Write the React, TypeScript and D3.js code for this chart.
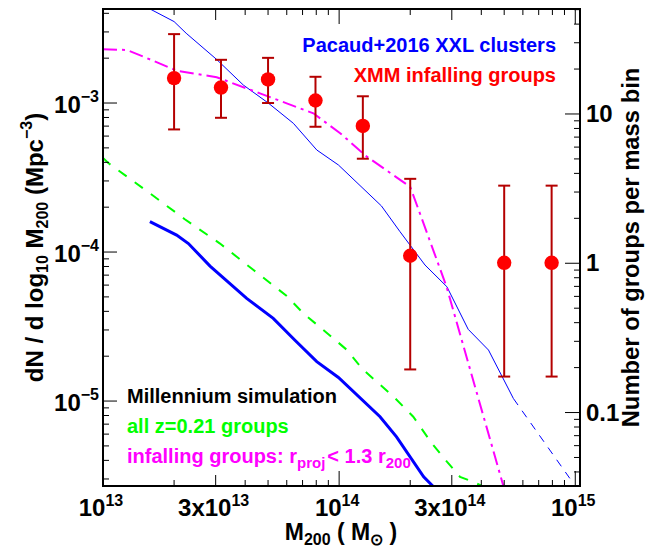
import React from "react";
import * as d3 from "d3";

// ---------- data ----------
// Pacaud+2016 XXL clusters (thin blue, solid part)
const pacaudMass = [1.25e13, 1.58e13, 2.0e13, 2.25e13, 3.03e13, 3.93e13, 5.01e13, 6.4e13, 8.04e13, 9.93e13, 1.51e14, 1.81e14, 2.31e14, 2.86e14, 3.52e14, 4.29e14, 5.47e14];
const pacaudDensity = [5.2e-3, 4.28e-3, 3.52e-3, 2.94e-3, 1.96e-3, 1.32e-3, 1.0e-3, 7.31e-4, 4.84e-4, 3.84e-4, 2.04e-4, 1.37e-4, 8.18e-5, 5.85e-5, 3.03e-5, 2.2e-5, 1.04e-5];
// Pacaud+2016 extrapolation (thin blue dashed)
const pacaudExtMass = [5.47e14, 9.48e14];
const pacaudExtDensity = [1.04e-5, 3.03e-6];

// Millennium: infalling groups (magenta dash-dot)
const infallMass = [1.0e13, 1.26e13, 1.48e13, 2.05e13, 3.03e13, 4.62e13, 6.0e13, 7.78e13, 1.01e14, 1.31e14, 2.0e14, 2.85e14, 4.97e14];
const infallDensity = [2.3e-3, 2.27e-3, 2.05e-3, 1.65e-3, 1.49e-3, 1.16e-3, 9.95e-4, 8.53e-4, 6.27e-4, 4.37e-4, 2.74e-4, 5.85e-5, 2.66e-6];

// Millennium: all z=0.21 groups (green dashed)
const allMass = [1.0e13, 1.05e13, 1.58e13, 2.22e13, 3.13e13, 4.34e13, 6.0e13, 7.05e13, 9.44e13, 1.08e14, 1.26e14, 1.7e14, 2.06e14, 2.47e14, 2.86e14, 3.25e14, 3.7e14, 4.36e14];
const allDensity = [4.28e-4, 3.97e-4, 2.48e-4, 1.66e-4, 1.14e-4, 7.57e-5, 5.07e-5, 3.88e-5, 2.64e-5, 2.2e-5, 1.63e-5, 1.07e-5, 7.85e-6, 5.2e-6, 3.92e-6, 3.1e-6, 2.87e-6, 2.53e-6];

// thick blue curve
const thickMass = [1.58e13, 2.05e13, 2.3e13, 2.84e13, 4.06e13, 5.26e13, 6.5e13, 8.04e13, 9.93e13, 1.49e14, 1.75e14, 2.28e14, 2.51e14];
const thickDensity = [1.6e-4, 1.3e-4, 1.14e-4, 8.05e-5, 4.89e-5, 3.59e-5, 2.56e-5, 1.84e-5, 1.44e-5, 7.85e-6, 5.75e-6, 3.1e-6, 2.66e-6];

// XMM infalling groups (red points with error bars)
const xmmMass = [2.0e13, 3.16e13, 5.0e13, 7.94e13, 1.26e14, 2.0e14, 5.0e14, 7.94e14];
const xmmDensity = [1.47e-3, 1.27e-3, 1.44e-3, 1.04e-3, 7.02e-4, 9.44e-5, 8.47e-5, 8.47e-5];
const xmmHigh = [2.9e-3, 1.95e-3, 2.01e-3, 1.5e-3, 1.11e-3, 3.1e-4, 2.79e-4, 2.79e-4];
const xmmLow = [6.65e-4, 7.96e-4, 1.0e-3, 6.93e-4, 4.23e-4, 1.63e-5, 1.46e-5, 1.46e-5];

// tick labels
const xLabelValues = [1e13, 3e13, 1e14, 3e14, 1e15];
const xLabelBase = ["10", "3x10", "10", "3x10", "10"];
const xLabelExp = ["13", "13", "14", "14", "15"];
const yLeftLabelValues = [1e-5, 1e-4, 1e-3];
const yLeftLabelExp = ["\u22125", "\u22124", "\u22123"];
const yRightLabelValues = [0.1, 1, 10];
const yRightLabels = ["0.1", "1", "10"];

// ---------- layout ----------
const W = 661;
const H = 549;
const L = 103, R = 580, T = 9, B = 486;
const FONT = "'Liberation Sans', Arial, Helvetica, sans-serif";

const x = d3.scaleLog().domain([1e13, Math.pow(10, 15.02)]).range([L, R]);
const yL = d3.scaleLog().domain([Math.pow(10, -5.57), Math.pow(10, -2.369)]).range([B, T]);
const yR = d3.scaleLog().domain([0.0322, 50.5]).range([B, T]);

function logTicks(lo: number, hi: number) {
  const out: { v: number; m: number }[] = [];
  for (let e = Math.floor(Math.log10(lo)) - 1; e <= Math.ceil(Math.log10(hi)); e++) {
    for (let m = 1; m < 10; m++) {
      const v = m * Math.pow(10, e);
      if (v >= lo * 0.9999 && v <= hi * 1.0001) out.push({ v, m });
    }
  }
  return out;
}

const zip = (a: number[], b: number[]) => a.map((v, i) => [v, b[i]] as [number, number]);

export default function App() {
  const line = d3
    .line<[number, number]>()
    .x((d) => x(d[0]))
    .y((d) => yL(d[1]));

  const xTicks = logTicks(1e13, Math.pow(10, 15.02));
  const yLTicks = logTicks(Math.pow(10, -5.57), Math.pow(10, -2.369));
  const yRTicks = logTicks(0.0322, 50.5);

  const xTickLen = (m: number) => (m === 1 ? 15 : m === 3 ? 11 : 6);

  const errColor = "#b40000";

  return (
    <svg
      width={W}
      height={H}
      viewBox={`0 0 ${W} ${H}`}
      style={{ position: "absolute", left: 0, top: 0, background: "#fff" }}
      fontFamily={FONT}
      fontWeight="bold"
    >
      <rect x={0} y={0} width={W} height={H} fill="#fff" />
      <defs>
        <clipPath id="plotClip">
          <rect x={L} y={T} width={R - L} height={B - T} />
        </clipPath>
      </defs>

      <g clipPath="url(#plotClip)" fill="none">
        <path d={line(zip(allMass, allDensity)) || ""} stroke="#00ff00" strokeWidth={2} strokeDasharray="10,10" />
        <path d={line(zip(thickMass, thickDensity)) || ""} stroke="#0000ff" strokeWidth={3} />
        <path d={line(zip(pacaudMass, pacaudDensity)) || ""} stroke="#0000ff" strokeWidth={1} />
        <path d={line(zip(pacaudExtMass, pacaudExtDensity)) || ""} stroke="#0000ff" strokeWidth={1} strokeDasharray="8,7" />
        <path d={line(zip(infallMass, infallDensity)) || ""} stroke="#ff00ff" strokeWidth={2} strokeDasharray="14,5,3,5" />
      </g>

      {/* error bars and points */}
      <g>
        {xmmMass.map((m, i) => (
          <g key={i}>
            <line x1={x(m)} x2={x(m)} y1={yL(xmmHigh[i])} y2={yL(xmmLow[i])} stroke={errColor} strokeWidth={2} />
            <line x1={x(m) - 6} x2={x(m) + 6} y1={yL(xmmHigh[i])} y2={yL(xmmHigh[i])} stroke={errColor} strokeWidth={2} />
            <line x1={x(m) - 6} x2={x(m) + 6} y1={yL(xmmLow[i])} y2={yL(xmmLow[i])} stroke={errColor} strokeWidth={2} />
          </g>
        ))}
        {xmmMass.map((m, i) => (
          <circle key={"c" + i} cx={x(m)} cy={yL(xmmDensity[i])} r={7.2} fill="#ff0000" />
        ))}
      </g>

      {/* ticks */}
      <g stroke="#000" strokeWidth={1}>
        {xTicks.map((t, i) => (
          <g key={"xt" + i}>
            <line x1={x(t.v)} x2={x(t.v)} y1={B} y2={B - xTickLen(t.m)} />
            <line x1={x(t.v)} x2={x(t.v)} y1={T} y2={T + xTickLen(t.m)} />
          </g>
        ))}
        {yLTicks.map((t, i) => (
          <line key={"yl" + i} x1={L} x2={L + (t.m === 1 ? 14 : 6)} y1={yL(t.v)} y2={yL(t.v)} />
        ))}
        {yRTicks.map((t, i) => (
          <line key={"yr" + i} x1={R} x2={R - (t.m === 1 ? 15 : 6)} y1={yR(t.v)} y2={yR(t.v)} />
        ))}
      </g>

      {/* frame */}
      <rect x={L} y={T} width={R - L} height={B - T} fill="none" stroke="#000" strokeWidth={2} />

      {/* x tick labels */}
      {xLabelValues.map((v, i) => (
        <text key={"xl" + i} x={x(v) - 2} y={516} textAnchor="middle" fontSize={24}>
          <tspan>{xLabelBase[i]}</tspan>
          <tspan dy={-10} fontSize={16}>{xLabelExp[i]}</tspan>
        </text>
      ))}

      {/* left y tick labels */}
      {yLeftLabelValues.map((v, i) => (
        <text key={"yll" + i} x={99} y={yL(v) + 10} textAnchor="end" fontSize={24}>
          <tspan>10</tspan>
          <tspan dy={-11} fontSize={16}>{yLeftLabelExp[i]}</tspan>
        </text>
      ))}

      {/* right y tick labels */}
      {yRightLabelValues.map((v, i) => (
        <text key={"yrl" + i} x={586} y={yR(v) + 8} textAnchor="start" fontSize={24}>
          {yRightLabels[i]}
        </text>
      ))}

      {/* axis titles */}
      <text x={341} y={540} textAnchor="middle" fontSize={23}>
        <tspan>M</tspan>
        <tspan dy={5} fontSize={16}>200</tspan>
        <tspan dy={-5}> ( M</tspan>
        <tspan dy={5} fontSize={16}>{"\u2299"}</tspan>
        <tspan dy={-5}> )</tspan>
      </text>

      <text transform="translate(43,247.5) rotate(-90)" textAnchor="middle" fontSize={24}>
        <tspan>dN / d log</tspan>
        <tspan dy={5} fontSize={16}>10</tspan>
        <tspan dy={-5}> M</tspan>
        <tspan dy={5} fontSize={16}>200</tspan>
        <tspan dy={-5}> (Mpc</tspan>
        <tspan dy={-11} fontSize={16}>{"\u22123"}</tspan>
        <tspan dy={11}>)</tspan>
      </text>

      <text transform="translate(639,247.5) rotate(-90)" textAnchor="middle" fontSize={23.8}>
        Number of groups per mass bin
      </text>

      {/* legend texts */}
      <text x={556} y={52} textAnchor="end" fontSize={20} fill="#0000ff">
        Pacaud+2016 XXL clusters
      </text>
      <text x={556} y={82} textAnchor="end" fontSize={20} fill="#ff0000">
        XMM infalling groups
      </text>
      <text x={127} y={403} fontSize={20} fill="#000">
        Millennium simulation
      </text>
      <text x={127} y={433} fontSize={20} fill="#00ff00">
        all z=0.21 groups
      </text>
      <text x={127} y={463} fontSize={20} fill="#ff00ff">
        <tspan>infalling groups: r</tspan>
        <tspan dy={5} fontSize={15}>proj</tspan>
        <tspan dy={-5} dx={2}>&lt; 1.3 r</tspan>
        <tspan dy={5} fontSize={15}>200</tspan>
      </text>
    </svg>
  );
}
